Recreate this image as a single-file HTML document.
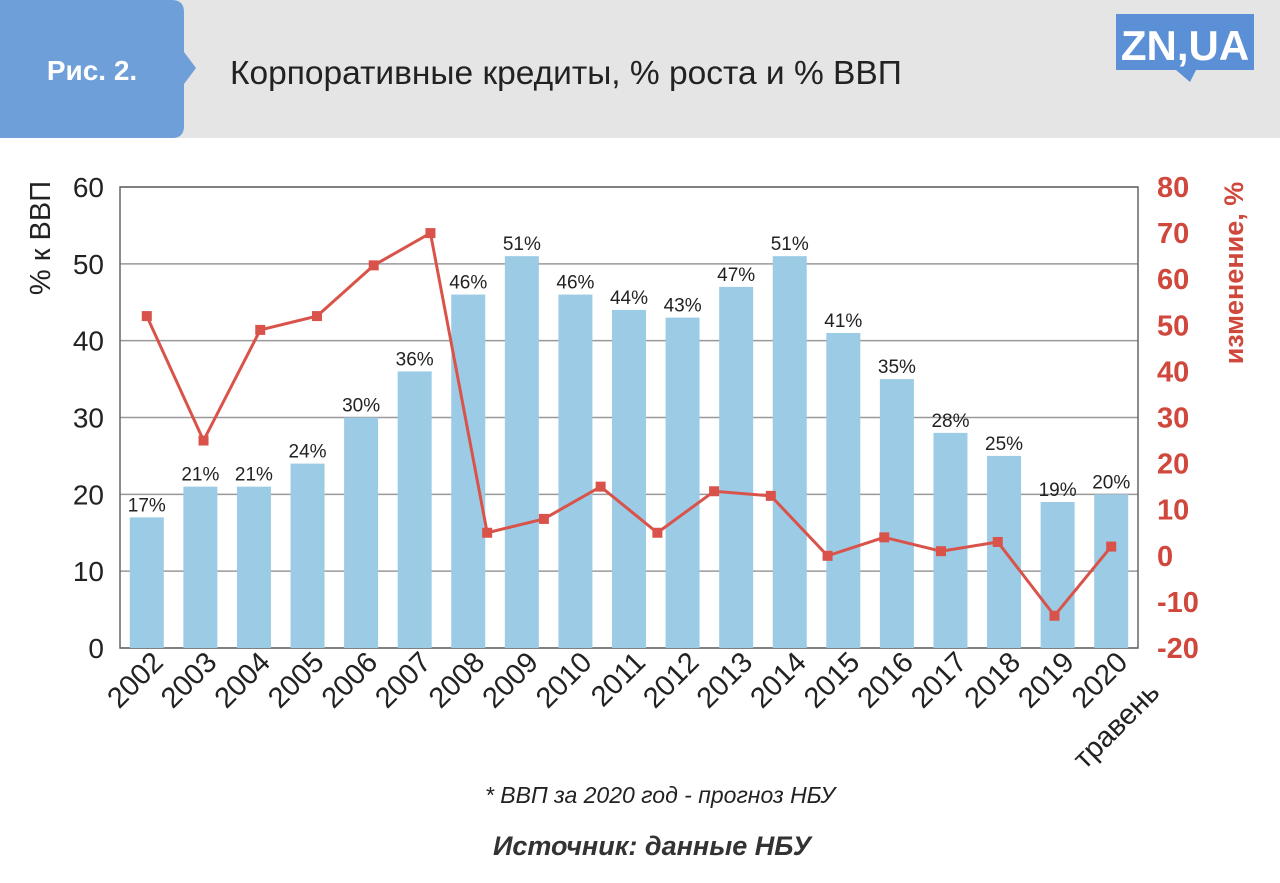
<!DOCTYPE html>
<html><head><meta charset="utf-8">
<style>
body{margin:0;width:1280px;height:883px;background:#fff;font-family:"Liberation Sans",sans-serif;overflow:hidden;position:relative}
</style></head>
<body>
<svg width="1280" height="883" style="position:absolute;left:0;top:0">
  <rect x="0" y="0" width="1280" height="138" fill="#e5e5e5"/>
  <path d="M0,0 H172 Q184,0 184,12 V52 L196,68 L184,84 V126 Q184,138 172,138 H0 Z" fill="#6f9fd8"/>
  <text x="92" y="80" fill="#fff" font-size="28" font-weight="bold" text-anchor="middle">Рис. 2.</text>
  <text x="230" y="84" fill="#222" font-size="33.5">Корпоративные кредиты, % роста и % ВВП</text>
  <g>
    <rect x="1116" y="14" width="138" height="56" fill="#5b8fd6"/>
    <path d="M1176,70 L1190,82 L1196,70 Z" fill="#5b8fd6"/>
    <text x="1185" y="60" fill="#fff" font-size="42" font-weight="bold" text-anchor="middle">ZN,UA</text>
  </g>
  <g id="plot"></g>
  <text x="660" y="803" font-size="23" font-style="italic" fill="#222" text-anchor="middle">* ВВП за 2020 год - прогноз НБУ</text>
  <text x="652" y="855" font-size="27" font-style="italic" font-weight="bold" fill="#333" text-anchor="middle">Источник: данные НБУ</text>
</svg>
<script>
const categories=["2002","2003","2004","2005","2006","2007","2008","2009","2010","2011","2012","2013","2014","2015","2016","2017","2018","2019","2020"];
const gdpShare=[17,21,21,24,30,36,46,51,46,44,43,47,51,41,35,28,25,19,20];
const growth=[52,25,49,52,63,70,5,8,15,5,14,13,0,4,1,3,-13,2];
const leftTicks=[0,10,20,30,40,50,60];
const rightTicks=[-20,-10,0,10,20,30,40,50,60,70,80];

const NS="http://www.w3.org/2000/svg";
const g=document.getElementById('plot');
const X0=120,X1=1138,Y0=648,Y1=187;
const band=(X1-X0)/categories.length;
const yL=v=>Y0-(v-0)/(60-0)*(Y0-Y1);
const yR=v=>Y0-(v+20)/(100)*(Y0-Y1);
const xC=i=>X0+band*(i+0.5);
const xLine=i=>xC(0)+(xC(categories.length-1)-xC(0))*i/(growth.length-1);
function el(t,a,txt){const e=document.createElementNS(NS,t);for(const k in a)e.setAttribute(k,a[k]);if(txt!==undefined)e.textContent=txt;g.appendChild(e);return e;}

leftTicks.forEach(v=>{
  const l=el('line',{x1:X0,x2:X1,y1:yL(v),y2:yL(v),stroke:'#999','stroke-width':1.5});
  
  
  const t=el('text',{x:104,y:yL(v)+10,'font-size':28,fill:'#222','text-anchor':'end'},v);
  
  
});
rightTicks.forEach(v=>{
  const t=el('text',{x:1157,y:yR(v)+10,'font-size':29,'font-weight':'bold',fill:'#d0473c'},v);
  
  
});
const fr=el('rect',{x:X0,y:Y1,width:X1-X0,height:Y0-Y1,fill:'none',stroke:'#666','stroke-width':1.5});



gdpShare.forEach((v,i)=>{
  const b=el('rect',{x:xC(i)-17,y:yL(v),width:34,height:Y0-yL(v),fill:'#9ccbe5'});
  
  
  const t=el('text',{x:xC(i),y:yL(v)-6,'font-size':19,fill:'#222','text-anchor':'middle'},v+'%');
  
  
});
categories.forEach((c,i)=>{
  const x=xC(i)+18,y=664;
  const t=el('text',{x:x,y:y,'font-size':29,fill:'#222','text-anchor':'end',transform:`rotate(-45 ${x} ${y})`},c);
  
  
});
{const x=xC(categories.length-1)+50,y=694;
const t=el('text',{x:x,y:y,'font-size':29,fill:'#222','text-anchor':'end',transform:`rotate(-45 ${x} ${y})`},'травень');

}

const pts=growth.map((v,i)=>xLine(i)+','+yR(v)).join(' ');
const pl=el('polyline',{points:pts,fill:'none',stroke:'#d9534a','stroke-width':3});


growth.forEach((v,i)=>{
  const m=el('rect',{x:xLine(i)-5,y:yR(v)-5,width:10,height:10,fill:'#d9534a'});
  
  
});
{const t=el('text',{x:0,y:0,'font-size':29,fill:'#222','text-anchor':'middle',transform:'translate(50,238) rotate(-90)'},'% к ВВП');

}
{const t=el('text',{x:0,y:0,'font-size':27,'font-weight':'bold',fill:'#d0473c','text-anchor':'middle',transform:'translate(1243,273) rotate(-90)'},'изменение, %');

}
</script>
</body></html>
